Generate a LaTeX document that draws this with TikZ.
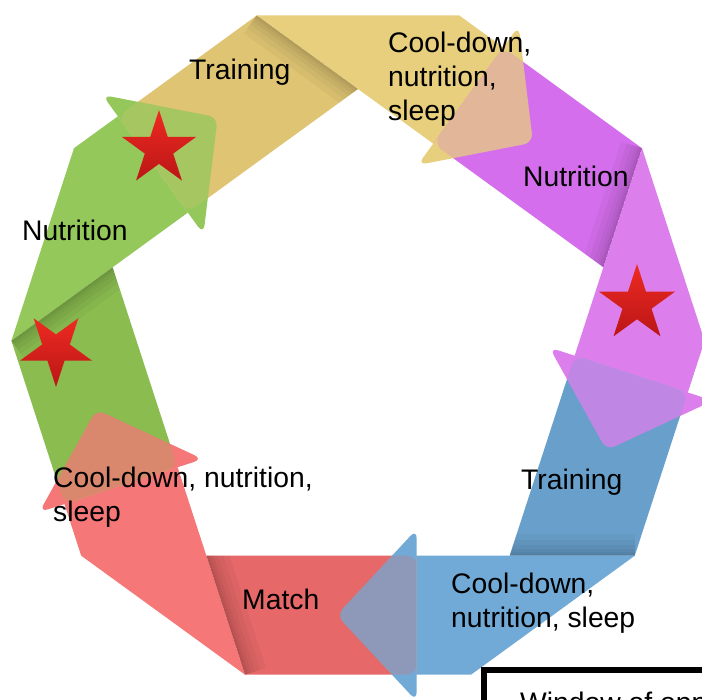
\documentclass[tikz,border=0pt]{standalone}
\usepackage{fontspec}
\setmainfont{Liberation Sans}
\usetikzlibrary{calc,shapes.geometric}

\definecolor{greentail}{RGB}{138,188,80}
\definecolor{greenhead}{RGB}{148,200,91}
\definecolor{yellowtail}{RGB}{222,196,115}
\definecolor{yellowhead}{RGB}{232,207,125}
\definecolor{purpletail}{RGB}{212,110,236}
\definecolor{purplehead}{RGB}{220,126,236}
\definecolor{bluetail}{RGB}{105,160,203}
\definecolor{bluehead}{RGB}{113,170,214}
\definecolor{redtail}{RGB}{230,104,104}
\definecolor{redhead}{RGB}{246,119,119}
\definecolor{startop}{RGB}{238,42,34}
\definecolor{starbottom}{RGB}{186,22,22}

\begin{document}
\begin{tikzpicture}[x=1pt,y=1pt,
  cyclelabel/.style={font=\fontsize{28.3}{34}\selectfont,inner sep=0pt,anchor=base west,align=left},
  arrowhead/.style={rounded corners=9pt},
  redstar/.style={star,star points=5,star point ratio=2.618,inner sep=0pt,top color=startop,bottom color=starbottom}]

\fill[white] (0,0) rectangle (702,700);
\useasboundingbox (0,0) rectangle (702,700);

% Pentagon corners (inner edge of the ribbon)
\coordinate (centre) at (358,353);
\coordinate (ptop) at ($(centre)+(90:258)$);
\coordinate (pright) at ($(centre)+(18:258)$);
\coordinate (pbr) at ($(centre)+(-54:258)$);
\coordinate (pbl) at ($(centre)+(-126:258)$);
\coordinate (pleft) at ($(centre)+(162:258)$);


% Green arrow
\coordinate (gti) at ($(pbl)+(108:93)$);
\coordinate (gto) at ($(gti)+(198:119)$);
\coordinate (ga) at ($(pleft)+(216:125.1)$);
\coordinate (gb) at ($(ga)+(72:202.5)$);
\coordinate (ghi) at ($(pleft)+(36:93)$);
\coordinate (gho) at ($(ghi)+(126:119)$);
\fill[greentail] (gti) -- (gto) -- (ga) -- (pleft) -- cycle;
\fill[greenhead] (ga) -- (gb) -- (gho) -- (ghi) -- (pleft) -- cycle;
\begin{scope}
\clip (gti) -- (gto) -- (ga) -- (pleft) -- cycle;
\foreach \d in {22,16,11,7,4,2}
  \fill[black,opacity=.035] (ga) -- (pleft) -- ($(pleft)+(-54:\d)$) -- ($(ga)+(-54:\d)$) -- cycle;
\end{scope}


% Yellow arrow
\coordinate (yti) at ($(pleft)+(36:93)$);
\coordinate (yto) at ($(yti)+(126:119)$);
\coordinate (ya) at ($(ptop)+(144:125.1)$);
\coordinate (yb) at ($(ya)+(0:202.5)$);
\coordinate (yhi) at ($(ptop)+(-36:93)$);
\coordinate (yho) at ($(yhi)+(54:119)$);
\fill[yellowtail] (yti) -- (yto) -- (ya) -- (ptop) -- cycle;
\fill[yellowhead] (ya) -- (yb) -- (yho) -- (yhi) -- (ptop) -- cycle;
\begin{scope}
\clip (yti) -- (yto) -- (ya) -- (ptop) -- cycle;
\foreach \d in {22,16,11,7,4,2}
  \fill[black,opacity=.035] (ya) -- (ptop) -- ($(ptop)+(-126:\d)$) -- ($(ya)+(-126:\d)$) -- cycle;
\end{scope}


% Purple arrow
\coordinate (pti) at ($(ptop)+(-36:93)$);
\coordinate (pto) at ($(pti)+(54:119)$);
\coordinate (pa) at ($(pright)+(72:125.1)$);
\coordinate (pb) at ($(pa)+(-72:202.5)$);
\coordinate (phi) at ($(pright)+(-108:93)$);
\coordinate (pho) at ($(phi)+(-18:119)$);
\fill[purpletail] (pti) -- (pto) -- (pa) -- (pright) -- cycle;
\fill[purplehead] (pa) -- (pb) -- (pho) -- (phi) -- (pright) -- cycle;
\begin{scope}
\clip (pti) -- (pto) -- (pa) -- (pright) -- cycle;
\foreach \d in {22,16,11,7,4,2}
  \fill[black,opacity=.035] (pa) -- (pright) -- ($(pright)+(162:\d)$) -- ($(pa)+(162:\d)$) -- cycle;
\end{scope}


% Blue arrow
\coordinate (bti) at ($(pright)+(-108:93)$);
\coordinate (bto) at ($(bti)+(-18:119)$);
\coordinate (ba) at ($(pbr)+(0:125.1)$);
\coordinate (bb) at ($(ba)+(-144:202.5)$);
\coordinate (bhi) at ($(pbr)+(180:93)$);
\coordinate (bho) at ($(bhi)+(270:119)$);
\fill[bluetail] (bti) -- (bto) -- (ba) -- (pbr) -- cycle;
\fill[bluehead] (ba) -- (bb) -- (bho) -- (bhi) -- (pbr) -- cycle;
\begin{scope}
\clip (bti) -- (bto) -- (ba) -- (pbr) -- cycle;
\foreach \d in {22,16,11,7,4,2}
  \fill[black,opacity=.035] (ba) -- (pbr) -- ($(pbr)+(90:\d)$) -- ($(ba)+(90:\d)$) -- cycle;
\end{scope}


% Red arrow
\coordinate (rti) at ($(pbr)+(180:93)$);
\coordinate (rto) at ($(rti)+(270:119)$);
\coordinate (ra) at ($(pbl)+(-72:125.1)$);
\coordinate (rb) at ($(ra)+(144:202.5)$);
\coordinate (rhi) at ($(pbl)+(108:93)$);
\coordinate (rho) at ($(rhi)+(198:119)$);
\fill[redtail] (rti) -- (rto) -- (ra) -- (pbl) -- cycle;
\fill[redhead] (ra) -- (rb) -- (rho) -- (rhi) -- (pbl) -- cycle;
\begin{scope}
\clip (rti) -- (rto) -- (ra) -- (pbl) -- cycle;
\foreach \d in {22,16,11,7,4,2}
  \fill[black,opacity=.035] (ra) -- (pbl) -- ($(pbl)+(18:\d)$) -- ($(ra)+(18:\d)$) -- cycle;
\end{scope}


% Arrowheads, each over the tail of the next colour
\coordinate (ghl) at ($(ghi)+(126:145.5)$);
\coordinate (ght) at ($(pleft)+(36:173)+(126:59.5)$);
\coordinate (ghr) at ($(ghi)+(306:26.5)$);
\fill[greenhead,arrowhead] (ghl) -- (ght) -- (ghr) -- cycle;
\begin{scope}
\clip[arrowhead] (ghl) -- (ght) -- (ghr) -- cycle;
\fill[yellowtail,opacity=.25,rounded corners=10pt] (yti) -- (yto) -- ($(yto)+(36:150)$) -- ($(yti)+(36:150)$) -- cycle;
\end{scope}

\coordinate (yhl) at ($(yhi)+(54:145.5)$);
\coordinate (yht) at ($(ptop)+(-36:173)+(54:59.5)$);
\coordinate (yhr) at ($(yhi)+(234:26.5)$);
\fill[yellowhead,arrowhead] (yhl) -- (yht) -- (yhr) -- cycle;
\begin{scope}
\clip[arrowhead] (yhl) -- (yht) -- (yhr) -- cycle;
\fill[purpletail,opacity=.25,rounded corners=10pt] (pti) -- (pto) -- ($(pto)+(-36:150)$) -- ($(pti)+(-36:150)$) -- cycle;
\end{scope}

\coordinate (phl) at ($(phi)+(-18:145.5)$);
\coordinate (pht) at ($(pright)+(-108:173)+(-18:59.5)$);
\coordinate (phr) at ($(phi)+(162:26.5)$);
\fill[purplehead,arrowhead] (phl) -- (pht) -- (phr) -- cycle;
\begin{scope}
\clip[arrowhead] (phl) -- (pht) -- (phr) -- cycle;
\fill[bluetail,opacity=.25,rounded corners=10pt] (bti) -- (bto) -- ($(bto)+(-108:150)$) -- ($(bti)+(-108:150)$) -- cycle;
\end{scope}

\coordinate (bhl) at ($(bhi)+(270:145.5)$);
\coordinate (bht) at ($(pbr)+(180:173)+(270:59.5)$);
\coordinate (bhr) at ($(bhi)+(90:26.5)$);
\fill[bluehead,arrowhead] (bhl) -- (bht) -- (bhr) -- cycle;
\begin{scope}
\clip[arrowhead] (bhl) -- (bht) -- (bhr) -- cycle;
\fill[redtail,opacity=.25,rounded corners=10pt] (rti) -- (rto) -- ($(rto)+(180:150)$) -- ($(rti)+(180:150)$) -- cycle;
\end{scope}

\coordinate (rhl) at ($(rhi)+(198:145.5)$);
\coordinate (rht) at ($(pbl)+(108:173)+(198:59.5)$);
\coordinate (rhr) at ($(rhi)+(18:26.5)$);
\fill[redhead,arrowhead] (rhl) -- (rht) -- (rhr) -- cycle;
\begin{scope}
\clip[arrowhead] (rhl) -- (rht) -- (rhr) -- cycle;
\fill[greentail,opacity=.25,rounded corners=10pt] (gti) -- (gto) -- ($(gto)+(108:150)$) -- ($(gti)+(108:150)$) -- cycle;
\end{scope}


% Stars
\node (starleftup) at (159,551) [redstar,minimum size=78pt] {};
\node (starleft) at (56,351) [redstar,minimum size=76pt,shape border rotate=180] {};
\node (starright) at (637,396) [redstar,minimum size=80pt] {};


% Labels (base west sits on the last line)
\node (traininga) at (189,620) [cyclelabel] {Training};
\node (cooldowna) at (388,579) [cyclelabel] {Cool-down,\\nutrition,\\sleep};
\node (nutritiona) at (523,513) [cyclelabel] {Nutrition};
\node (trainingb) at (521,210) [cyclelabel] {Training};
\node (cooldownb) at (451,72) [cyclelabel] {Cool-down,\\nutrition, sleep};
\node (match) at (242,90) [cyclelabel] {Match};
\node (cooldownc) at (53,178) [cyclelabel] {Cool-down, nutrition,\\sleep};
\node (nutritionb) at (22,459) [cyclelabel] {Nutrition};

% Window box, cut by the page edge
\draw[line width=6pt] (484,30) rectangle (800,-80);
\node (window) at (520,-13) [cyclelabel] {Window of opportunity};

\end{tikzpicture}
\end{document}
